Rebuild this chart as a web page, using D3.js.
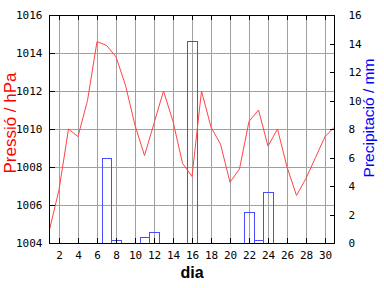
<!DOCTYPE html>
<html>
<head>
<meta charset="utf-8">
<script src="https://cdn.jsdelivr.net/npm/d3@7"></script>
<style>
  body { margin: 0; background: #fff; }
  svg { display: block; }
  .tick text { font-family: "DejaVu Sans Mono", monospace; font-size: 11px; fill: #000; }
</style>
</head>
<body>
<div id="chart"></div>
<script>
// daily pressure (hPa), days 1..31
const days = d3.range(1, 32);
const pressure = [1004.7, 1006.8, 1010.0, 1009.6, 1011.5, 1014.6, 1014.4, 1013.8, 1012.3, 1010.2,
                  1008.6, 1010.3, 1012.0, 1010.4, 1008.2, 1007.5, 1012.0, 1010.1, 1009.2, 1007.2,
                  1007.9, 1010.4, 1011.0, 1009.1, 1010.0, 1008.0, 1006.5, 1007.4, 1008.5, 1009.6,
                  1010.1];
// precipitation (mm), only days with rain
const rainDays = [7, 8, 11, 12, 16, 22, 23, 24];
const rain = [6.0, 0.2, 0.4, 0.8, 14.2, 2.2, 0.2, 3.6];

const xTicks = d3.range(2, 31, 2);
const pTicks = d3.range(1004, 1017, 2);
const rTicks = d3.range(0, 17, 2);

const W = 384, H = 288;
const pLeft = 49.5, pRight = 334.5, pTop = 15, pBottom = 243;

const svg = d3.select("#chart").append("svg")
    .attr("width", W).attr("height", H);

const x = d3.scaleLinear().domain([1, 31]).range([pLeft, pRight]);
const yP = d3.scaleLinear().domain([1004, 1016]).range([pBottom, pTop]);
const yR = d3.scaleLinear().domain([0, 16]).range([pBottom, pTop]);

// grid
const grid = svg.append("g").attr("stroke", "#a0a0a0").attr("shape-rendering", "crispEdges");
grid.selectAll("line.v").data(xTicks).join("line")
    .attr("x1", d => Math.round(x(d)) + 0.5).attr("x2", d => Math.round(x(d)) + 0.5)
    .attr("y1", pTop).attr("y2", pBottom);
grid.selectAll("line.h").data(pTicks.slice(1, -1)).join("line")
    .attr("x1", pLeft).attr("x2", pRight)
    .attr("y1", d => Math.round(yP(d)) + 0.5).attr("y2", d => Math.round(yP(d)) + 0.5);

// rain bars
svg.append("g").selectAll("rect").data(rainDays).join("rect")
    .attr("x", d => Math.round(x(d - 0.5)) + 0.5)
    .attr("width", d => Math.round(x(d + 0.5)) - Math.round(x(d - 0.5)))
    .attr("y", (d, i) => Math.round(yR(rain[i])) + 0.5)
    .attr("height", (d, i) => Math.round(yR(0)) - Math.round(yR(rain[i])))
    .attr("fill", "none").attr("stroke", "#4c4cff").attr("shape-rendering", "crispEdges");

// pressure line
const line = d3.line().x(d => x(d)).y((d, i) => yP(pressure[i]));
svg.append("path").datum(days)
    .attr("d", line)
    .attr("fill", "none").attr("stroke", "#ff4444").attr("stroke-width", 1);

// axes
const fmt = d3.format("d");
function clean(g) {
    g.select(".domain").remove();
    g.selectAll(".tick line").attr("stroke", "#000").attr("shape-rendering", "crispEdges");
}
svg.append("g").attr("transform", `translate(0,${pBottom})`)
    .call(d3.axisBottom(x).tickValues(xTicks).tickSize(-5).tickPadding(8).tickFormat(fmt)).call(clean);
svg.append("g").attr("transform", `translate(0,${pTop})`)
    .call(d3.axisTop(x).tickValues(xTicks).tickSize(-5).tickFormat("")).call(clean);
svg.append("g").attr("transform", `translate(${pLeft},0)`)
    .call(d3.axisLeft(yP).tickValues(pTicks).tickSize(-5).tickPadding(7).tickFormat(fmt)).call(clean);
svg.append("g").attr("transform", `translate(${pRight},0)`)
    .call(d3.axisRight(yR).tickValues(rTicks).tickSize(-5).tickPadding(14).tickFormat(fmt)).call(clean);

// frame
svg.append("rect")
    .attr("x", pLeft).attr("y", pTop + 0.5)
    .attr("width", pRight - pLeft).attr("height", pBottom - pTop)
    .attr("fill", "none").attr("stroke", "#000").attr("shape-rendering", "crispEdges");

// titles
const font = "'Liberation Sans', Arial, sans-serif";
svg.append("text").text("Pressió / hPa")
    .attr("transform", `translate(15.5,123) rotate(-90)`)
    .attr("text-anchor", "middle").attr("font-family", font).attr("font-size", 17)
    .attr("fill", "#ff0000");
svg.append("text").text("Precipitació / mm")
    .attr("transform", `translate(374,118) rotate(-90)`)
    .attr("text-anchor", "middle").attr("font-family", font).attr("font-size", 15.5)
    .attr("fill", "#0000ff");
svg.append("text").text("dia")
    .attr("x", 192).attr("y", 278)
    .attr("text-anchor", "middle").attr("font-family", font).attr("font-size", 16)
    .attr("font-weight", "bold").attr("fill", "#000");
</script>
</body>
</html>
